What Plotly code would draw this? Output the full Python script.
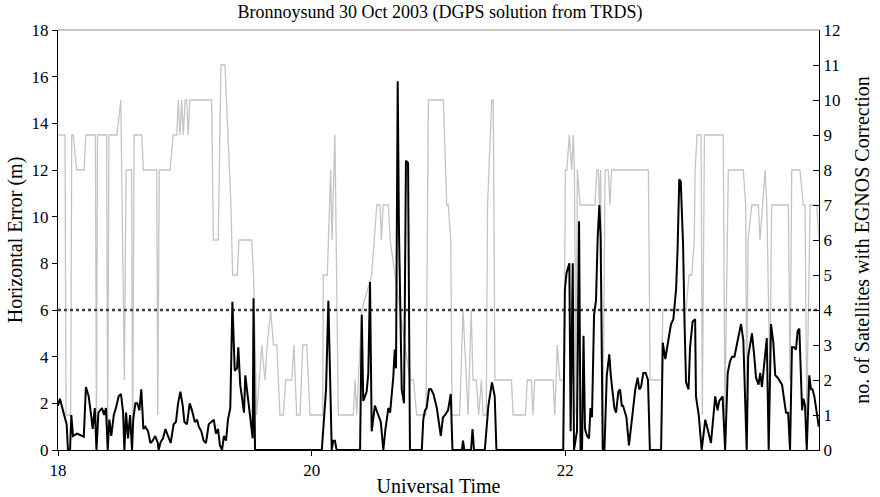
import plotly.graph_objects as go

# ---------------- data ----------------
# time in minutes after 18:00 UT
SAT_T_MIN = [
    0.0, 3.3, 3.8, 6.0, 6.5, 7.2, 8.8, 12.3, 13.2, 17.7,
    18.2, 18.7, 23.0, 23.5, 24.1, 27.9, 29.7, 31.4, 32.2, 34.8,
    35.3, 36.0, 39.6, 40.4, 46.7, 47.2, 47.9, 53.0, 54.5, 56.2,
    56.9, 57.7, 58.5, 59.3, 60.1, 60.9, 61.6, 62.4, 72.7, 73.5,
    75.8, 76.5, 77.1, 79.0, 81.8, 82.6, 84.8, 85.6, 91.6, 92.5,
    94.0, 96.4, 97.9, 99.0, 100.6, 101.9, 103.5, 105.0, 106.6, 107.7,
    110.6, 111.6, 112.9, 114.5, 115.8, 117.7, 119.2, 125.2, 125.5, 127.4,
    129.0, 129.6, 131.0, 132.6, 139.7, 140.5, 141.3, 143.7, 148.4, 150.8,
    152.3, 153.0, 153.8, 156.3, 157.1, 166.5, 168.1, 169.7, 174.1, 175.2,
    182.3, 183.9, 184.6, 185.8, 186.4, 190.0, 191.6, 194.0, 195.5, 196.3,
    197.9, 199.0, 200.3, 201.1, 202.6, 203.2, 203.9, 205.2, 205.9, 206.7,
    214.5, 215.3, 221.1, 222.0, 223.9, 224.7, 225.5, 234.2, 235.0, 236.2,
    237.4, 239.4, 240.0, 240.7, 241.9, 243.0, 243.8, 244.3, 245.1, 245.7,
    247.0, 254.0, 254.9, 255.6, 256.1, 256.7, 257.7, 258.8, 260.3, 261.1,
    261.9, 279.3, 280.1, 285.6, 286.1, 297.1, 298.5, 299.8, 301.0, 301.4,
    302.3, 304.2, 304.8, 305.8, 314.7, 315.5, 317.1, 324.2, 325.3, 325.8,
    326.4, 328.2, 331.3, 332.1, 334.5, 335.3, 336.8, 337.6, 345.5, 346.3,
    347.1, 351.0, 352.6, 353.4, 354.2, 355.8, 358.9, 359.7, 360.0,
]
SAT_COUNT = [
    9, 9, 1, 1, 9, 9, 8, 8, 9, 9,
    0, 9, 9, 0, 9, 9, 10, 2, 8, 8,
    0, 9, 9, 8, 8, 1, 8, 8, 9, 9,
    10, 9, 10, 9, 10, 10, 9, 10, 10, 6,
    6, 9, 11, 11, 7, 5, 5, 6, 6, 5,
    1, 3, 2, 3, 4, 3, 3, 1, 1, 2,
    2, 3, 1, 1, 3, 3, 1, 1, 5, 5,
    8, 6, 9, 1, 1, 2, 1, 4, 5, 7,
    7, 6, 7, 7, 6, 2, 2, 1, 1, 10,
    10, 7, 7, 6, 1, 1, 4, 1, 4, 2,
    2, 1, 2, 1, 1, 7, 8, 10, 10, 2,
    2, 1, 1, 2, 2, 1, 2, 2, 1, 3,
    2, 2, 8, 8, 9, 8, 9, 8, 1, 8,
    7, 7, 8, 8, 7, 8, 0, 8, 8, 7,
    8, 8, 2, 2, 4, 4, 5, 5, 6, 8,
    9, 9, 1, 9, 9, 1, 8, 8, 7, 1,
    6, 7, 7, 6, 8, 7, 2, 7, 7, 2,
    8, 8, 7, 7, 1, 7, 7, 6, 6,
]

ERR_T_MIN = [
    0.0, 0.9, 3.2, 4.1, 4.7, 5.7, 6.3, 7.1, 9.0, 10.5,
    12.2, 13.2, 14.5, 15.8, 16.4, 17.4, 18.2, 19.1, 20.8, 21.8,
    22.7, 23.5, 24.3, 25.2, 26.4, 27.4, 28.7, 29.8, 30.8, 31.4,
    32.2, 33.1, 34.1, 35.0, 35.6, 36.6, 37.5, 38.5, 39.4, 40.4,
    41.3, 42.6, 43.7, 44.8, 46.0, 47.2, 47.6, 48.6, 49.7, 50.8,
    52.0, 53.3, 54.7, 55.8, 56.8, 57.9, 59.0, 59.8, 61.0, 62.3,
    63.4, 64.7, 65.8, 66.6, 67.8, 68.9, 70.0, 71.3, 72.5, 73.7,
    74.7, 75.7, 76.6, 77.6, 78.5, 79.5, 80.4, 81.5, 82.5, 83.6,
    84.7, 85.3, 86.2, 87.0, 88.0, 88.6, 89.4, 90.2, 90.8, 91.5,
    92.1, 92.5, 93.2, 124.8, 125.5, 126.8, 127.9, 129.5, 130.2, 131.0,
    131.8, 142.9, 143.7, 144.4, 145.2, 146.0, 146.8, 147.6, 148.4, 149.9,
    151.5, 152.7, 153.9, 154.9, 156.3, 157.1, 157.9, 158.6, 159.3, 159.9,
    160.7, 161.3, 162.6, 163.7, 164.6, 165.6, 166.5, 172.1, 172.8, 173.6,
    174.4, 175.5, 176.5, 177.6, 179.2, 179.8, 181.1, 182.1, 183.1, 184.5,
    185.8, 186.6, 191.1, 191.6, 192.2, 195.4, 196.1, 196.8, 201.9, 203.6,
    205.3, 206.6, 207.4, 239.0, 239.8, 240.6, 241.9, 242.5, 243.5, 244.1,
    245.5, 246.5, 247.2, 247.9, 248.6, 249.3, 250.3, 251.2, 251.9, 252.6,
    253.6, 254.5, 255.3, 256.1, 256.7, 257.7, 258.5, 259.6, 260.8, 261.5,
    262.2, 263.2, 264.0, 265.1, 265.9, 266.7, 267.3, 268.9, 270.1, 270.9,
    272.0, 273.1, 274.2, 275.0, 275.8, 276.9, 278.0, 279.1, 280.0, 285.3,
    286.1, 287.3, 288.9, 290.0, 291.1, 292.4, 293.1, 293.9, 294.6, 295.7,
    296.4, 297.1, 298.3, 299.0, 300.2, 301.4, 301.8, 303.1, 304.5, 306.2,
    307.3, 308.9, 309.8, 310.9, 312.0, 312.8, 314.4, 315.6, 316.8, 317.9,
    318.9, 320.0, 321.1, 322.3, 323.1, 324.2, 325.8, 326.5, 328.3, 329.4,
    330.2, 331.4, 332.2, 333.0, 334.1, 335.3, 336.2, 337.3, 338.4, 339.3,
    340.5, 341.6, 342.5, 343.6, 344.4, 345.4, 346.3, 347.2, 348.3, 349.1,
    349.9, 350.7, 352.0, 352.6, 353.4, 354.2, 355.4, 356.2, 356.9, 357.8,
    358.9, 359.9,
]
HORIZ_ERR_M = [
    1.9, 2.2, 1.4, 1.1, 0, 0, 1.5, 0.6, 0.7, 0.65,
    0.57, 2.7, 2.3, 1.4, 0.9, 1.8, 0, 1.6, 1.8, 1.5,
    1.8, 0, 1.3, 0.6, 1.5, 1.8, 2.3, 2.4, 1.6, 0,
    1.6, 0.5, 1.5, 0, 1.3, 2.0, 2.0, 1.7, 2.6, 0.9,
    1.0, 0.8, 0.3, 0.4, 0.6, 0.3, 0, 0.35, 0.5, 0.9,
    0.6, 0.3, 1.1, 1.2, 2.0, 2.5, 1.9, 1.2, 1.1, 2.0,
    1.7, 1.2, 1.3, 1.0, 0.8, 0.4, 0.3, 1.1, 1.2, 1.3,
    0.7, 0.9, 0.2, 0, 0.6, 0.4, 1.3, 1.8, 6.35, 3.4,
    3.5, 4.4, 2.8, 2.3, 1.6, 3.2, 2.6, 2.0, 1.7, 1.1,
    0.5, 6.5, 0, 0, 0.9, 2.6, 6.4, 0, 0.4, 0.4,
    0, 0, 5.8, 2.1, 2.3, 2.5, 3.3, 7.2, 0.8, 1.9,
    1.5, 1.2, 0, 0.9, 1.8, 1.6, 2.4, 3.1, 4.3, 3.5,
    15.8, 9.4, 2.6, 2.0, 12.4, 12.3, 0, 0, 1.3, 1.7,
    1.8, 2.6, 2.6, 2.4, 1.8, 1.4, 0.6, 1.4, 1.5, 1.7,
    2.4, 0, 0, 0.4, 0, 0, 0.9, 0, 0, 1.9,
    2.9, 2.3, 0, 0, 6.9, 7.6, 8.0, 0.8, 8.0, 0,
    0.8, 9.8, 0, 0, 4.9, 0.9, 0.6, 0.5, 1.8, 1.4,
    5.8, 6.4, 9.1, 10.5, 9.1, 0, 0, 3.2, 4.1, 3.2,
    2.5, 1.8, 1.6, 2.5, 2.6, 1.9, 1.9, 1.4, 0.2, 0.9,
    1.8, 2.6, 3.1, 2.6, 2.7, 3.3, 3.3, 3.0, 0, 0,
    4.6, 3.9, 4.8, 5.4, 5.6, 6.9, 8.6, 11.6, 11.5, 8.8,
    5.4, 2.9, 2.6, 4.4, 5.5, 5.6, 2.3, 1.5, 0, 1.3,
    0.9, 0.3, 1.2, 2.3, 1.7, 2.1, 2.3, 0, 3.3, 3.8,
    4.0, 4.0, 4.5, 5.1, 5.4, 4.7, 0, 4.0, 5.0, 4.0,
    3.1, 2.8, 3.3, 2.7, 3.7, 4.8, 0, 5.4, 4.6, 3.2,
    3.1, 2.9, 2.8, 2.1, 1.6, 1.6, 0, 4.4, 4.4, 4.3,
    5.1, 5.2, 1.7, 2.2, 1.9, 0, 3.2, 2.6, 2.6, 2.3,
    1.5, 1.0,
]

THRESHOLD_M = 6
START_HOUR = 18
X_RANGE = [18, 24]
X_TICKS = [18, 20, 22]
ERR_RANGE = [0, 18]
SAT_RANGE = [0, 12]

assert len(SAT_T_MIN) == len(SAT_COUNT), (len(SAT_T_MIN), len(SAT_COUNT))
assert len(ERR_T_MIN) == len(HORIZ_ERR_M), (len(ERR_T_MIN), len(HORIZ_ERR_M))

sat_x = [START_HOUR + m / 60 for m in SAT_T_MIN]
err_x = [START_HOUR + m / 60 for m in ERR_T_MIN]

FONT = "Liberation Serif, Times New Roman, serif"
FS = 17
TICKFONT = dict(family=FONT, size=FS, color="black")

fig = go.Figure()
# satellites (right axis) drawn first so it sits underneath
fig.add_trace(go.Scatter(x=sat_x, y=SAT_COUNT, mode="lines", yaxis="y",
                         line=dict(color="#c4c4c4", width=1.3), hoverinfo="skip"))
fig.add_trace(go.Scatter(x=X_RANGE, y=[THRESHOLD_M, THRESHOLD_M], mode="lines", yaxis="y2",
                         line=dict(color="#404040", width=2.5, dash="dot"), hoverinfo="skip"))
fig.add_trace(go.Scatter(x=err_x, y=HORIZ_ERR_M, mode="lines", yaxis="y2",
                         line=dict(color="#000000", width=2), hoverinfo="skip"))

fig.update_layout(
    width=880, height=497,
    margin=dict(l=58, r=61, t=30, b=47, autoexpand=False),
    paper_bgcolor="white", plot_bgcolor="white",
    showlegend=False,
    font=dict(family=FONT, size=FS, color="black"),
    title=dict(text="Bronnoysund 30 Oct 2003 (DGPS solution from TRDS)",
               x=0.5, xref="container", y=1 - 12 / 497, yref="container",
               xanchor="center", yanchor="middle",
               font=dict(family=FONT, size=18, color="black")),
    xaxis=dict(range=X_RANGE, tickvals=X_TICKS, ticktext=[str(v) for v in X_TICKS],
               ticks="outside", ticklen=5, tickfont=TICKFONT,
               tickcolor="black", showline=True, linecolor="black", linewidth=1,
               showgrid=False, zeroline=False, ticklabelstandoff=0, automargin=False,
               title=dict(text="Universal Time", standoff=4)),
    yaxis=dict(range=SAT_RANGE, dtick=1, side="right", ticks="inside", ticklen=6,
               tickfont=TICKFONT,
               tickcolor="black", showline=True, linecolor="black", linewidth=1,
               showgrid=False, zeroline=False, automargin=False,
               title=dict(text="no. of Satellites with EGNOS Correction", standoff=15)),
    yaxis2=dict(range=ERR_RANGE, dtick=2, side="left", overlaying="y", anchor="x",
                ticks="outside", ticklen=5, tickfont=TICKFONT, tickcolor="black",
                showline=True, linecolor="black", linewidth=1, showgrid=False,
                zeroline=False, automargin=False,
                title=dict(text="Horizontal Error (m)", standoff=3)),
    shapes=[dict(type="line", xref="paper", yref="paper", x0=0, x1=1, y0=1, y1=1,
                 line=dict(color="#8c8c8c", width=1))],
)

fig.write_html("out.html")
